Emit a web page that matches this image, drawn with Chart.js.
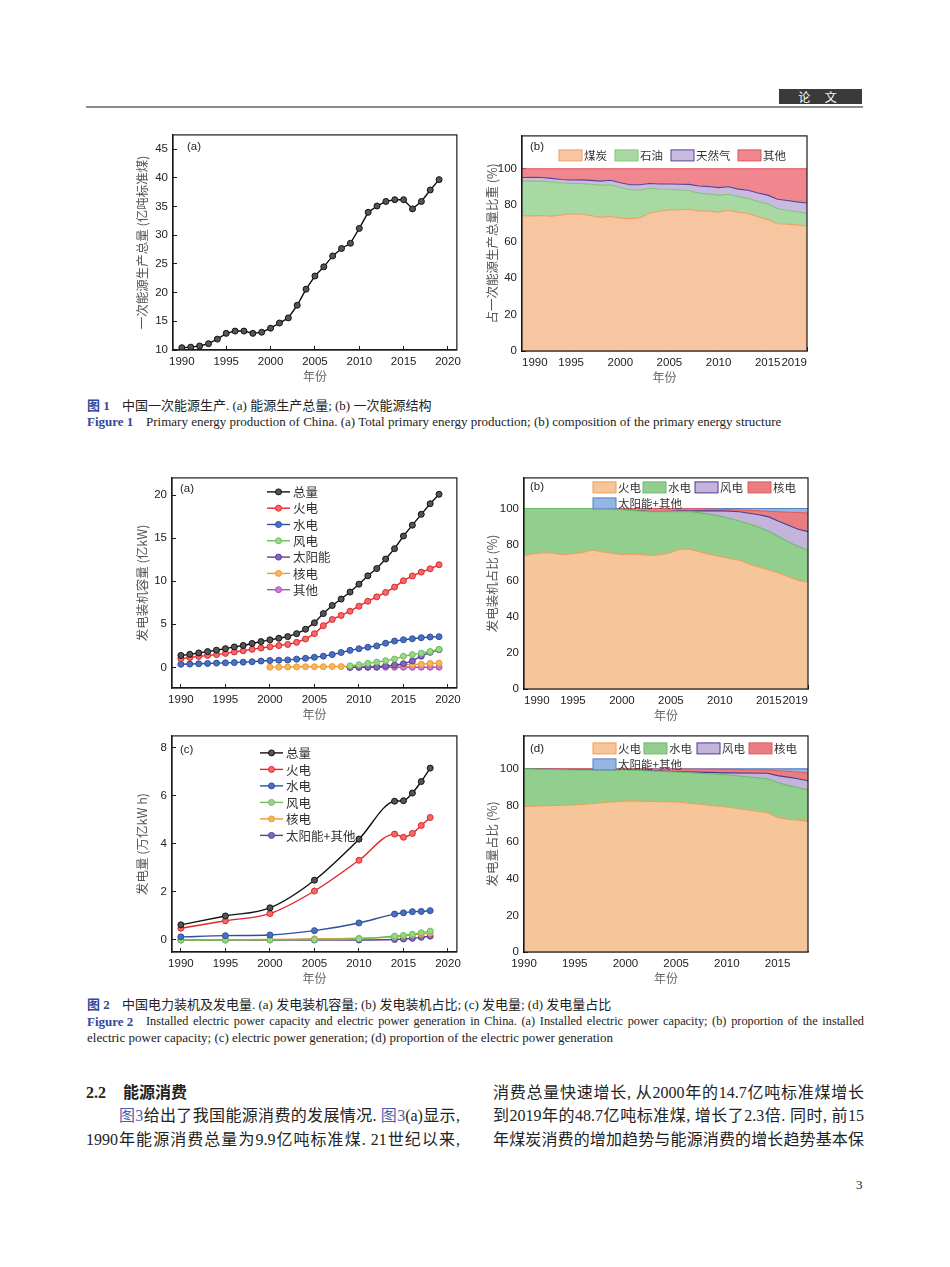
<!DOCTYPE html>
<html>
<head>
<meta charset="utf-8">
<script src="https://cdn.jsdelivr.net/npm/chart.js@4.4.1/dist/chart.umd.min.js"></script>
<style>
body{margin:0;background:#fff;width:950px;height:1267px;position:relative;overflow:hidden;color:#222;font-family:"Liberation Serif","Noto Sans CJK SC",serif}
.cv{position:absolute}
.t{position:absolute;white-space:nowrap}
.cap{font-size:13px;line-height:13px}
.fb{color:#34479c;font-weight:bold}
.body{font-size:16px;line-height:16px}
.j{position:absolute;text-align:justify;text-align-last:justify;white-space:normal}
.lk{color:#4a5db0}
</style>
</head>
<body>

<div style="position:absolute;left:779px;top:89px;width:83px;height:15px;background:#3a3a3a;color:#fff;font:12px/15px 'Noto Sans CJK SC';text-align:center;letter-spacing:6px">论 文</div>
<div style="position:absolute;left:86px;top:106px;width:777px;height:2px;background:#8c8c8c"></div>

<div class="cv" style="left:130px;top:119px;width:340px;height:271px"><canvas id="c1a"></canvas></div>
<div class="cv" style="left:480px;top:120px;width:340px;height:271px"><canvas id="c1b"></canvas></div>
<div class="cv" style="left:130px;top:462px;width:340px;height:266px"><canvas id="c2a"></canvas></div>
<div class="cv" style="left:480px;top:462px;width:340px;height:267px"><canvas id="c2b"></canvas></div>
<div class="cv" style="left:130px;top:720px;width:340px;height:272px"><canvas id="c2c"></canvas></div>
<div class="cv" style="left:480px;top:720px;width:340px;height:272px"><canvas id="c2d"></canvas></div>

<div class="t cap fb" style="left:87px;top:399px">图 1</div>
<div class="t cap" style="left:122px;top:399px">中国一次能源生产. (a) 能源生产总量; (b) 一次能源结构</div>
<div class="t cap fb" style="left:87px;top:415px">Figure 1</div>
<div class="t cap" style="left:146px;top:415px">Primary energy production of China. (a) Total primary energy production; (b) composition of the primary energy structure</div>

<div class="t cap fb" style="left:87px;top:998px">图 2</div>
<div class="t cap" style="left:122px;top:998px">中国电力装机及发电量. (a) 发电装机容量; (b) 发电装机占比; (c) 发电量; (d) 发电量占比</div>
<div class="t cap fb" style="left:87px;top:1015px">Figure 2</div>
<div class="j cap" style="left:146px;top:1015px;width:718px;height:13px;overflow:visible;font-size:12.3px">Installed electric power capacity and electric power generation in China. (a) Installed electric power capacity; (b) proportion of the installed</div>
<div class="t cap" style="left:87px;top:1031px">electric power capacity; (c) electric power generation; (d) proportion of the electric power generation</div>

<div class="t" style="left:86px;top:1085px;font-size:16px;line-height:16px;font-weight:bold">2.2</div>
<div class="t" style="left:123px;top:1085px;font-size:16px;line-height:16px;font-weight:bold">能源消费</div>
<div class="j body" style="left:119px;top:1108px;width:341px"><span class="lk">图3</span>给出了我国能源消费的发展情况. <span class="lk">图3</span>(a)显示,</div>
<div class="j body" style="left:86px;top:1132px;width:374px">1990年能源消费总量为9.9亿吨标准煤. 21世纪以来,</div>
<div class="j body" style="left:493px;top:1085px;width:371px">消费总量快速增长, 从2000年的14.7亿吨标准煤增长</div>
<div class="j body" style="left:493px;top:1108px;width:371px">到2019年的48.7亿吨标准煤, 增长了2.3倍. 同时, 前15</div>
<div class="j body" style="left:493px;top:1132px;width:371px">年煤炭消费的增加趋势与能源消费的增长趋势基本保</div>
<div class="t" style="left:856px;top:1178px;font-size:13px;line-height:13px">3</div>

<script>
// ---- Fig 1(a) primary energy production, 亿吨标准煤
const years1 = [1990,1991,1992,1993,1994,1995,1996,1997,1998,1999,2000,2001,2002,2003,2004,2005,2006,2007,2008,2009,2010,2011,2012,2013,2014,2015,2016,2017,2018,2019];
const prodTotal = [10.4,10.5,10.7,11.1,11.9,12.9,13.3,13.3,12.9,13.1,13.8,14.7,15.6,17.8,20.6,22.9,24.5,26.4,27.7,28.6,31.2,34.0,35.1,35.9,36.2,36.2,34.6,35.9,37.9,39.7];

// ---- Fig 1(b) structure, %
const coalShare = [74.2,74.1,74.3,74.0,74.6,75.3,75.0,74.3,73.3,73.9,72.9,72.6,73.1,75.7,76.7,77.4,77.5,77.8,76.8,76.8,76.2,77.2,76.2,75.4,73.6,72.2,69.8,69.6,69.2,68.6];
const oilShare = [19.0,19.2,18.9,18.7,17.6,16.6,16.9,17.2,17.7,17.3,16.8,15.9,15.3,13.6,12.2,11.3,10.8,10.1,9.8,9.4,9.3,8.8,8.5,8.4,8.4,8.5,8.2,7.6,7.2,6.9];
const gasShare = [2.0,2.0,2.0,2.0,1.9,1.9,2.0,2.1,2.2,2.5,2.6,2.7,2.8,2.6,2.7,2.9,3.2,3.5,3.9,4.0,4.1,4.1,4.1,4.4,4.7,4.8,5.2,5.4,5.4,5.7];
const otherShare = [4.8,4.7,4.8,5.3,5.9,6.2,6.1,6.4,6.8,6.3,7.7,8.8,8.8,8.1,8.4,8.4,8.5,8.6,9.5,9.8,10.4,9.9,11.2,11.8,13.3,14.5,16.8,17.4,18.2,18.8];

// ---- Fig 2(a) installed capacity, 亿kW
const capTotal = [1.38,1.51,1.67,1.83,1.99,2.17,2.37,2.54,2.77,2.99,3.19,3.38,3.57,3.91,4.42,5.17,6.24,7.18,7.93,8.74,9.66,10.63,11.47,12.58,13.78,15.25,16.51,17.77,19.00,20.10];
const capThermal = [1.01,1.14,1.27,1.38,1.48,1.62,1.79,1.92,2.09,2.24,2.38,2.53,2.66,2.90,3.29,3.91,4.84,5.56,6.03,6.52,7.10,7.68,8.19,8.70,9.32,10.06,10.61,11.06,11.44,11.91];
const capHydro = [0.36,0.38,0.41,0.45,0.49,0.52,0.55,0.60,0.65,0.73,0.79,0.83,0.86,0.95,1.05,1.17,1.30,1.48,1.72,1.97,2.16,2.33,2.49,2.80,3.05,3.20,3.32,3.44,3.52,3.56];
const capWind = [null,null,null,null,null,null,null,null,null,null,null,null,null,null,null,null,null,null,null,0.17,0.30,0.46,0.61,0.77,0.96,1.29,1.48,1.64,1.84,2.10];
const capSolar = [null,null,null,null,null,null,null,null,null,null,null,null,null,null,null,null,null,null,null,0.00,0.01,0.02,0.03,0.16,0.25,0.42,0.74,1.29,1.74,2.04];
const capNuclear = [null,null,null,null,null,null,null,null,null,null,0.02,0.02,0.04,0.06,0.07,0.07,0.07,0.09,0.09,0.09,0.11,0.13,0.13,0.15,0.20,0.27,0.34,0.36,0.45,0.49];
const capOther = [null,null,null,null,null,null,null,null,null,null,null,null,null,null,null,null,null,null,null,0.00,0.00,0.01,0.01,0.01,0.01,0.01,0.01,0.01,0.01,0.01];

// ---- Fig 2(b) installed capacity share, %
const capShThermal = [74.0,75.0,75.5,75.3,74.5,75.0,75.7,77.0,76.0,75.3,74.5,74.8,74.5,74.0,74.5,75.7,77.6,77.4,76.0,74.6,73.5,72.3,71.4,69.2,67.6,66.0,64.3,62.2,60.2,59.2];
const capShHydro = [26.0,25.0,24.5,24.7,25.5,25.0,24.3,23.0,24.0,24.6,24.9,24.2,24.1,24.3,23.7,22.6,20.8,20.9,21.6,22.2,22.3,22.2,21.7,22.3,22.1,21.4,20.2,19.3,18.8,17.8];
const capShWind = [0,0,0,0,0,0,0,0,0,0.1,0.1,0.1,0.1,0.1,0.1,0.2,0.3,0.5,1.1,1.9,2.9,4.0,5.1,5.9,6.9,8.0,8.5,9.3,9.5,10.2];
const capShNuclear = [0,0,0,0,0,0,0,0,0,0,0.5,0.9,1.3,1.6,1.7,1.5,1.3,1.2,1.2,1.1,0.9,0.9,1.0,1.6,2.2,3.1,5.2,7.2,9.3,10.3];
const capShSolar = [0,0,0,0,0,0,0,0,0,0,0,0,0,0,0,0,0,0,0.1,0.2,0.4,0.6,0.8,1.0,1.2,1.5,1.8,2.0,2.2,2.5];

// ---- Fig 2(c) generation, 万亿kW h
const years2 = [1990,1995,2000,2005,2010,2014,2015,2016,2017,2018];
const genTotal = [0.63,1.00,1.34,2.49,4.20,5.78,5.80,6.12,6.60,7.16];
const genThermal = [0.49,0.80,1.10,2.04,3.32,4.41,4.28,4.44,4.77,5.10];
const genHydro = [0.13,0.18,0.21,0.39,0.71,1.08,1.13,1.18,1.19,1.22];
const genWind = [0.00,0.00,0.01,0.02,0.05,0.16,0.19,0.24,0.30,0.37];
const genNuclear = [0.00,0.01,0.02,0.05,0.07,0.13,0.17,0.21,0.25,0.29];
const genSolar = [0.00,0.00,0.00,0.00,0.00,0.02,0.04,0.07,0.11,0.16];

// ---- Fig 2(d) generation share, %
const genShThermal = [79.5,80.3,82.5,82.0,79.2,76.0,73.5,72.5,72.0,71.3];
const genShHydro = [20.5,19.1,16.9,16.3,17.6,18.6,19.0,18.5,17.8,17.2];
const genShWind = [0,0.1,0.1,0.2,1.0,3.0,3.8,4.5,4.8,5.0];
const genShNuclear = [0,0.5,0.5,1.4,1.9,1.8,2.7,3.2,3.7,4.3];
const genShSolar = [0,0,0,0.1,0.3,0.6,1.0,1.3,1.7,2.2];

// ---- tick labels
const xTicksLine = [1990,1995,2000,2005,2010,2015,2020];
const xTicksShare = [1990,1995,2000,2005,2010,2015,2019];
const xTicks2d = [1990,1995,2000,2005,2010,2015];
const yTicks1a = [10,15,20,25,30,35,40,45];
const yTicksPct = [0,20,40,60,80,100];
const yTicks2a = [0,5,10,15,20];
const yTicks2c = [0,2,4,6,8];

Chart.defaults.font.family = '"Liberation Sans","Noto Sans CJK SC",sans-serif';
Chart.defaults.animation = false;

// frame box, panel tag and in-plot legend
const panelPlugin = {
  id: 'panel',
  afterDraw(chart, args, o) {
    const c = chart.ctx, a = chart.chartArea;
    c.save();
    c.strokeStyle = '#1a1a1a'; c.lineWidth = 1.2;
    c.strokeRect(a.left, a.top, a.right - a.left, a.bottom - a.top);
    c.textBaseline = 'middle';
    c.fillStyle = '#222'; c.font = '11.5px "Liberation Sans"';
    c.fillText(o.tag, a.left + o.tagX, a.top + o.tagY);
    chart.data.datasets.forEach((ds, i) => {
      if (o.kind === 'line') {
        const x = a.left + o.lx, y = a.top + o.ly + i * o.step;
        c.strokeStyle = ds.borderColor; c.lineWidth = 1.4;
        c.beginPath(); c.moveTo(x, y); c.lineTo(x + 23, y); c.stroke();
        c.beginPath(); c.arc(x + 11.5, y, 3, 0, Math.PI * 2);
        c.fillStyle = ds.pointBackgroundColor; c.fill(); c.lineWidth = 1; c.stroke();
        c.font = '12.5px "Noto Sans CJK SC"';
        c.fillStyle = '#333'; c.fillText(ds.label, x + 26, y + 0.5);
      } else if (o.kind === 'box') {
        const x = a.left + o.pos[i][0], y = a.top + o.pos[i][1];
        c.fillStyle = ds.backgroundColor; c.fillRect(x, y, 23, 11);
        c.strokeStyle = ds.borderColor; c.lineWidth = 1; c.strokeRect(x, y, 23, 11);
        c.font = '11.5px "Noto Sans CJK SC"';
        c.fillStyle = '#333'; c.fillText(ds.label, x + 25, y + 6);
      }
    });
    c.restore();
  }
};

function scaleSet(o) {
  return {
    x: {
      type: 'linear', min: o.xmin, max: o.xmax, z: 1,
      afterBuildTicks: s => { s.ticks = o.xticks.map(v => ({ value: v })); },
      afterFit: s => { s.height = 40; },
      border: { color: '#1a1a1a', width: 1.2 },
      grid: { drawOnChartArea: false, tickLength: -4, tickColor: '#1a1a1a' },
      ticks: { color: '#222', font: { size: 11.5 }, padding: 9, maxRotation: 0, autoSkip: false, align: o.xalign || 'center', callback: v => String(v) },
      title: { display: true, text: '年份', color: '#666', font: { size: 12, family: '"Noto Sans CJK SC"' }, padding: { top: 0, bottom: 6 } }
    },
    y: {
      min: o.ymin, max: o.ymax, stacked: !!o.stacked, z: 1,
      afterBuildTicks: s => { s.ticks = o.yticks.map(v => ({ value: v })); },
      afterFit: s => { s.width = o.yw; },
      border: { color: '#1a1a1a', width: 1.2 },
      grid: { drawOnChartArea: false, tickLength: -4, tickColor: '#1a1a1a' },
      ticks: { color: '#222', font: { size: 11.5 }, padding: 9, callback: v => String(v) },
      title: { display: true, text: o.ytitle, color: '#555', font: { size: 12.5, family: '"Noto Sans CJK SC"' }, padding: { top: 5, bottom: 0 } }
    }
  };
}

function lineSet(label, xs, ys, color, dot, smooth) {
  return {
    label: label, data: xs.map((x, i) => ({ x: x, y: ys[i] })),
    borderColor: color, backgroundColor: color, borderWidth: 1.4,
    pointBackgroundColor: dot, pointBorderColor: color, pointBorderWidth: 1, pointRadius: 3,
    cubicInterpolationMode: smooth ? 'monotone' : 'default', tension: 0
  };
}

function areaSet(label, xs, ys, bg, line, first) {
  return {
    label: label, data: xs.map((x, i) => ({ x: x, y: ys[i] })),
    backgroundColor: bg, borderColor: line, borderWidth: 1.1,
    pointRadius: 0, fill: first ? 'origin' : '-1', tension: 0
  };
}

function makeChart(id, datasets, scales, pad, panel) {
  return new Chart(document.getElementById(id), {
    type: 'line',
    data: { datasets: datasets },
    options: {
      responsive: true, maintainAspectRatio: false,
      layout: { padding: pad },
      scales: scales,
      plugins: { legend: { display: false }, tooltip: { enabled: false }, panel: panel }
    },
    plugins: [panelPlugin]
  });
}

// Fig 1(a)
makeChart('c1a', [lineSet('总量', years1, prodTotal, '#111', '#555', false)],
  scaleSet({ xmin: 1989, xmax: 2021, xticks: xTicksLine, ymin: 10, ymax: 47.5, yticks: yTicks1a, ytitle: '一次能源生产总量 (亿吨标准煤)', yw: 43 }),
  { left: 0, right: 7, top: 5, bottom: 0 },
  { tag: '(a)', tagX: 14, tagY: 12, kind: 'none' });

// Fig 1(b)
makeChart('c1b', [
    areaSet('煤炭', years1, coalShare, '#F7C59F', '#EBA265', true),
    areaSet('石油', years1, oilShare, '#A9D9A3', '#84C47D'),
    areaSet('天然气', years1, gasShare, '#C8BBDF', '#55449A'),
    areaSet('其他', years1, otherShare, '#F0878F', '#E2545E')
  ],
  scaleSet({ xmin: 1990, xmax: 2019, xticks: xTicksShare, xalign: 'inner', ymin: 0, ymax: 118, yticks: yTicksPct, ytitle: '占一次能源生产总量比重 (%)', yw: 42, stacked: true }),
  { left: 0, right: 13, top: 5, bottom: 0 },
  { tag: '(b)', tagX: 8, tagY: 11, kind: 'box', pos: [[37, 14], [93, 14], [149, 14], [216, 14]] });

// Fig 2(a)
makeChart('c2a', [
    lineSet('总量', years1, capTotal, '#111', '#555'),
    lineSet('火电', years1, capThermal, '#E3242B', '#F06A6A'),
    lineSet('水电', years1, capHydro, '#2D4F9E', '#4B6FBF'),
    lineSet('风电', years1, capWind, '#6BBF59', '#98D68A'),
    lineSet('太阳能', years1, capSolar, '#5B3E99', '#8366C0'),
    lineSet('核电', years1, capNuclear, '#EF9A30', '#F6B65E'),
    lineSet('其他', years1, capOther, '#B04FB5', '#CB7ECF')
  ],
  scaleSet({ xmin: 1989, xmax: 2021, xticks: xTicksLine, ymin: -2.4, ymax: 22, yticks: yTicks2a, ytitle: '发电装机容量 (亿kW)', yw: 42 }),
  { left: 0, right: 8, top: 5, bottom: 0 },
  { tag: '(a)', tagX: 8, tagY: 11, kind: 'line', lx: 95, ly: 14, step: 16.3 });

// Fig 2(b)
makeChart('c2b', [
    areaSet('火电', years1, capShThermal, '#F7C59A', '#EBA05C', true),
    areaSet('水电', years1, capShHydro, '#92CF8E', '#6DBA6A'),
    areaSet('风电', years1, capShWind, '#C4B4DC', '#4B3B8F'),
    areaSet('核电', years1, capShNuclear, '#EA7D82', '#DD5A62'),
    areaSet('太阳能+其他', years1, capShSolar, '#94B6E2', '#5B7FC0')
  ],
  scaleSet({ xmin: 1990, xmax: 2019, xticks: xTicksShare, xalign: 'inner', ymin: 0, ymax: 117, yticks: yTicksPct, ytitle: '发电装机占比 (%)', yw: 44, stacked: true }),
  { left: 0, right: 12, top: 5, bottom: 0 },
  { tag: '(b)', tagX: 6, tagY: 9, kind: 'box', pos: [[69, 4], [119, 4], [171, 4], [224, 4], [69, 20]] });

// Fig 2(c)
makeChart('c2c', [
    lineSet('总量', years2, genTotal, '#111', '#555', true),
    lineSet('火电', years2, genThermal, '#E3242B', '#F06A6A', true),
    lineSet('水电', years2, genHydro, '#2D4F9E', '#4B6FBF', true),
    lineSet('风电', years2, genWind, '#6BBF59', '#98D68A', true),
    lineSet('核电', years2, genNuclear, '#EF9A30', '#F6B65E', true),
    lineSet('太阳能+其他', years2, genSolar, '#5B3E99', '#8366C0', true)
  ],
  scaleSet({ xmin: 1989, xmax: 2021, xticks: xTicksLine, ymin: -0.5, ymax: 8.5, yticks: yTicks2c, ytitle: '发电量 (万亿kW h)', yw: 42 }),
  { left: 0, right: 7, top: 5, bottom: 0 },
  { tag: '(c)', tagX: 8, tagY: 14, kind: 'line', lx: 88, ly: 17, step: 16.5 });

// Fig 2(d)
makeChart('c2d', [
    areaSet('火电', years2, genShThermal, '#F7C59A', '#EBA05C', true),
    areaSet('水电', years2, genShHydro, '#92CF8E', '#6DBA6A'),
    areaSet('风电', years2, genShWind, '#C4B4DC', '#4B3B8F'),
    areaSet('核电', years2, genShNuclear, '#EA7D82', '#DD5A62'),
    areaSet('太阳能+其他', years2, genShSolar, '#94B6E2', '#5B7FC0')
  ],
  scaleSet({ xmin: 1990, xmax: 2018, xticks: xTicks2d, ymin: 0, ymax: 118, yticks: yTicksPct, ytitle: '发电量占比 (%)', yw: 44, stacked: true }),
  { left: 0, right: 12, top: 5, bottom: 0 },
  { tag: '(d)', tagX: 6, tagY: 13, kind: 'box', pos: [[69, 7], [120, 7], [173, 7], [225, 7], [69, 23]] });
</script>
</body>
</html>
